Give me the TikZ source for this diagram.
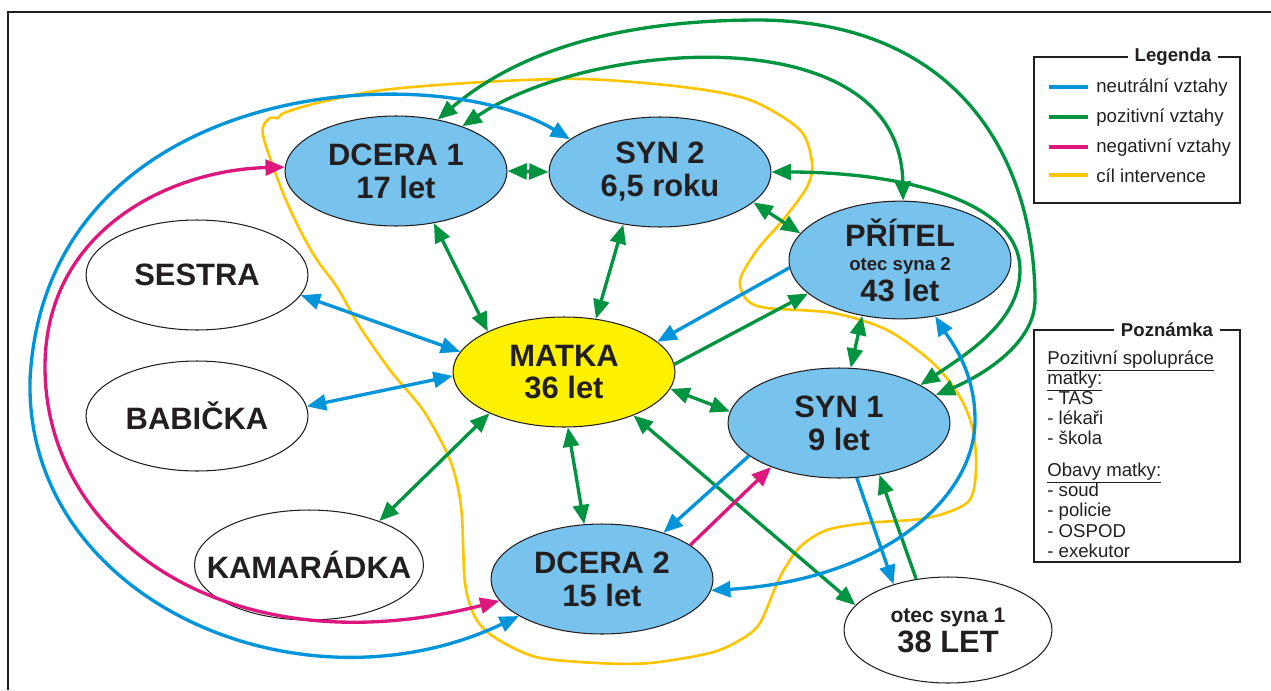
\documentclass[tikz,border=0pt]{standalone}
\usepackage{fontspec}
\setmainfont{Liberation Sans}
\usetikzlibrary{arrows.meta,shapes.geometric}
\definecolor{neutral}{RGB}{0,148,218}
\definecolor{pozit}{RGB}{0,148,64}
\definecolor{negat}{RGB}{221,23,125}
\definecolor{cil}{RGB}{255,196,0}
\definecolor{dite}{RGB}{120,195,237}
\definecolor{mama}{RGB}{255,242,0}
\definecolor{ink}{RGB}{35,31,32}
\newcommand{\velke}{\fontsize{17.6}{18.7}\selectfont\bfseries}
\newcommand{\male}{\fontsize{10.6}{11.3}\selectfont}
\newcommand{\poznfont}{\fontsize{10.6}{11.5}\selectfont\lineskiplimit=-10pt\relax}

\begin{document}
\begin{tikzpicture}[x=0.02cm, y=-0.02cm, >={Triangle[length=11pt,width=9pt]},
	osoba/.style={ellipse, draw=ink, line width=0.6pt, minimum width=4.44cm, minimum height=2.2cm, inner sep=0pt, align=center, text=ink, font=\velke},
	neu/.style={line width=1.9pt, color=neutral},
	poz/.style={line width=1.9pt, color=pozit},
	neg/.style={line width=1.9pt, color=negat},
	cile/.style={line width=1.5pt, color=cil},
	leg/.style={anchor=west, text=ink, font=\male, inner sep=0pt},
	titul/.style={fill=white, text=ink, font=\male\bfseries, inner xsep=4pt, inner ysep=1pt}]
			%%%%% START %%%%%
			
			\useasboundingbox (0,0) rectangle (1271,690);
			\draw[line width=1.7pt, ink] (8,690) -- (8,12) -- (1271,12);
			
			% cil intervence
			\draw[cile] plot[smooth cycle] coordinates {(263,127) (270,118) (278,118) (284,113) (317,103) (383,90) (483,82) (583,79) (683,87) (750,100) (800,130) (812,163) (807,187) (783,220) (757,250) (740,280) (747,300) (767,308) (833,313) (887,330) (933,363) (960,397) (973,430) (976,470) (968,502) (927,518) (867,523) (827,530) (800,547) (780,577) (760,623) (740,640) (710,653) (650,663) (597,663) (536,657) (494,637) (475,617) (465,583) (462,517) (457,483) (447,453) (423,410) (390,370) (360,327) (337,287) (317,260) (300,230) (283,193) (265,143)};
			
			\node[osoba, fill=dite] (dcera1) at (396,171) {DCERA 1\\17 let};
			\node[osoba, fill=dite] (syn2) at (660,172) {SYN 2\\6,5 roku};
			\node[osoba, fill=dite] (pritel) at (900,260) {PŘÍTEL\\[-5pt]{\male\bfseries otec syna 2}\\[-1pt]43 let};
			\node[osoba, fill=mama] (matka) at (564,372) {MATKA\\36 let};
			\node[osoba, fill=dite] (syn1) at (839,423) {SYN 1\\9 let};
			\node[osoba, fill=dite] (dcera2) at (602,579) {DCERA 2\\15 let};
			\node[osoba, minimum width=4.16cm, minimum height=2.12cm] (otec1) at (948,630) {{\fontsize{12}{13}\selectfont\bfseries otec syna 1}\\[-1.7pt]38 LET};
			\node[osoba] (sestra) at (197,275) {SESTRA};
			\node[osoba] (babicka) at (197,416) {BABIČKA};
			\node[osoba, minimum width=4.58cm] (kamaradka) at (309,565) {\makebox[0pt]{KAMARÁDKA}};
			
			% pozitivni
			\draw[poz,<->] (dcera1.east) -- (syn2.west);
			\draw[poz,<->] (dcera1.-54) -- (matka.152);
			\draw[poz,<->] (syn2.235) -- (matka.59);
			\draw[poz,<->] (syn2.342) -- (pritel.165);
			\draw[poz,<->] (pritel.236) -- (syn1.78);
			\draw[poz,<->] (matka.351) -- (syn1.174);
			\draw[poz,<->] (matka.274) -- (dcera2.108);
			\draw[poz,<->] (matka.209) -- (kamaradka.32);
			\draw[poz,->] (matka.4) -- (pritel.200);
			\draw[poz,<->] (matka.328) -- (otec1.165);
			\draw[poz,->] (otec1.122) -- (syn1.308);
			\draw[poz,<->] (dcera1.51) .. controls (520,50) and (620,20) .. (760,20) .. controls (960,22) and (1035,160) .. (1035,300) .. controls (1035,340) and (990,372) .. (syn1.16);
			\draw[poz,<->] (dcera1.34) .. controls (590,40) and (900,15) .. (pritel.87);
			\draw[poz,<->] (syn2.east) .. controls (900,172) and (1020,200) .. (1020,270) .. controls (1020,320) and (970,352) .. (syn1.25);
			
			% neutralni
			\draw[neu,<->] (sestra.349) -- (matka.169);
			\draw[neu,<->] (babicka.5) -- (matka.182);
			\draw[neu,->] (pritel.184) -- (matka.18);
			\draw[neu,->] (syn1.200) -- (dcera2.37);
			\draw[neu,->] (syn1.288) -- (otec1.140);
			\draw[neu,<->] (dcera2.354) .. controls (880,580) and (975,500) .. (975,420) .. controls (975,370) and (950,340) .. (pritel.302);
			\draw[neu,<->] (syn2.160) .. controls (430,55) and (45,80) .. (30,380) .. controls (25,600) and (300,720) .. (dcera2.204);
			
			% negativni
			\draw[neg,->] (dcera2.21) -- (syn1.213);
			\draw[neg,<->] (dcera1.178) .. controls (170,170) and (45,230) .. (45,367) .. controls (45,540) and (230,670) .. (dcera2.192);
			
			% legenda
			\draw[line width=0.8pt, ink] (1034,57) rectangle (1240,203);
			\node[titul] (legenda) at (1173,57) {Legenda};
			\node[leg] (lneu) at (1096,88) {neutrální vztahy};
			\node[leg] (lpoz) at (1096,118) {pozitivní vztahy};
			\node[leg] (lneg) at (1096,148) {negativní vztahy};
			\node[leg] (lcil) at (1096,176) {cíl intervence};
			\draw[neu] (1049,87) -- (1088,87);
			\draw[poz] (1049,117) -- (1088,117);
			\draw[neg] (1049,147) -- (1088,147);
			\draw[line width=1.9pt, cil] (1049,175) -- (1088,175);
			
			% poznamka
			\draw[line width=0.8pt, ink] (1034,330) rectangle (1240,562);
			\node[titul] (poznamka) at (1167,330) {Poznámka};
			\node[leg, anchor=north west, align=left, font=\poznfont] (pozn) at (1047,350) {\underline{Pozitivní spolupráce}\\\underline{matky:}\\- TAS\\- lékaři\\- škola\\[6.5pt]\underline{Obavy matky:}\\- soud\\- policie\\- OSPOD\\- exekutor};
			
			%%%%% END %%%%%
\end{tikzpicture}
\end{document}
